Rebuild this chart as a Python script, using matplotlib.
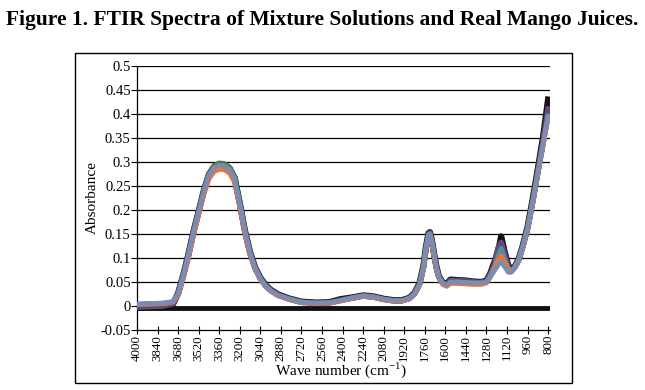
import matplotlib
matplotlib.use("Agg")
import matplotlib.pyplot as plt
from matplotlib.patches import Rectangle

plt.rcParams['font.family'] = ['Liberation Serif', 'DejaVu Serif']
plt.rcParams['mathtext.fontset'] = 'custom'
plt.rcParams['mathtext.rm'] = 'Liberation Serif'

# wave numbers (cm-1) where the spectra were read
wavenumber = [4000, 3900, 3800, 3720, 3680, 3640, 3600, 3560, 3520, 3480,
              3440, 3400, 3360, 3320, 3280, 3240, 3200, 3160, 3120, 3080,
              3040, 3000, 2960, 2900, 2820, 2720, 2600, 2500, 2420, 2320,
              2240, 2160, 2080, 2000, 1940, 1880, 1840, 1800, 1770, 1750,
              1730, 1720, 1705, 1690, 1670, 1650, 1620, 1590, 1560, 1500,
              1440, 1380, 1320, 1280, 1250, 1220, 1190, 1165, 1140, 1110,
              1085, 1060, 1030, 1000, 960, 920, 880, 840, 800]

black = [-0.004, -0.003, -0.002, 0.004, 0.026, 0.064, 0.107, 0.155, 0.197, 0.24,
         0.274, 0.29, 0.295, 0.294, 0.287, 0.267, 0.214, 0.157, 0.112, 0.08,
         0.059, 0.044, 0.034, 0.024, 0.016, 0.009, 0.007, 0.008, 0.014, 0.018,
         0.022, 0.02, 0.015, 0.012, 0.012, 0.017, 0.027, 0.048, 0.084, 0.124,
         0.152, 0.154, 0.138, 0.113, 0.083, 0.062, 0.049, 0.046, 0.055, 0.054,
         0.053, 0.051, 0.05, 0.053, 0.068, 0.09, 0.112, 0.145, 0.115, 0.085,
         0.075, 0.082, 0.097, 0.123, 0.164, 0.222, 0.285, 0.35, 0.43]

purple = [-0.002, -0.001, 0.0, 0.005, 0.027, 0.065, 0.107, 0.155, 0.197, 0.24,
          0.274, 0.29, 0.295, 0.294, 0.287, 0.267, 0.214, 0.157, 0.112, 0.08,
          0.058, 0.043, 0.033, 0.023, 0.015, 0.008, 0.006, 0.007, 0.012, 0.017,
          0.021, 0.019, 0.014, 0.011, 0.011, 0.016, 0.026, 0.047, 0.083, 0.123,
          0.151, 0.153, 0.137, 0.112, 0.082, 0.061, 0.048, 0.045, 0.053, 0.053,
          0.052, 0.05, 0.049, 0.052, 0.066, 0.085, 0.12, 0.132, 0.11, 0.08,
          0.074, 0.081, 0.096, 0.122, 0.162, 0.218, 0.28, 0.34, 0.41]

green = [0.003, 0.004, 0.005, 0.008, 0.025, 0.063, 0.106, 0.155, 0.198, 0.242,
         0.276, 0.293, 0.298, 0.297, 0.289, 0.268, 0.214, 0.156, 0.111, 0.079,
         0.057, 0.042, 0.032, 0.022, 0.015, 0.008, 0.006, 0.007, 0.011, 0.017,
         0.021, 0.019, 0.014, 0.011, 0.011, 0.016, 0.025, 0.045, 0.08, 0.12,
         0.148, 0.15, 0.135, 0.11, 0.08, 0.06, 0.047, 0.043, 0.05, 0.05,
         0.049, 0.048, 0.048, 0.05, 0.062, 0.078, 0.1, 0.112, 0.098, 0.078,
         0.073, 0.08, 0.095, 0.12, 0.16, 0.215, 0.275, 0.335, 0.395]

teal = [0.004, 0.005, 0.006, 0.009, 0.025, 0.062, 0.105, 0.153, 0.195, 0.238,
        0.272, 0.288, 0.293, 0.292, 0.285, 0.265, 0.212, 0.155, 0.11, 0.078,
        0.057, 0.042, 0.032, 0.022, 0.015, 0.008, 0.006, 0.007, 0.011, 0.017,
        0.021, 0.019, 0.014, 0.011, 0.011, 0.016, 0.025, 0.045, 0.08, 0.12,
        0.148, 0.15, 0.135, 0.11, 0.08, 0.06, 0.047, 0.043, 0.05, 0.05,
        0.049, 0.048, 0.048, 0.05, 0.063, 0.08, 0.105, 0.12, 0.1, 0.078,
        0.073, 0.08, 0.095, 0.12, 0.16, 0.215, 0.275, 0.335, 0.395]

orange = [0.003, 0.004, 0.005, 0.008, 0.022, 0.058, 0.1, 0.148, 0.19, 0.232,
          0.265, 0.28, 0.285, 0.284, 0.277, 0.258, 0.207, 0.151, 0.107, 0.076,
          0.055, 0.041, 0.031, 0.021, 0.014, 0.007, 0.005, 0.006, 0.01, 0.016,
          0.02, 0.018, 0.013, 0.01, 0.01, 0.015, 0.024, 0.044, 0.078, 0.118,
          0.146, 0.148, 0.133, 0.108, 0.078, 0.058, 0.045, 0.041, 0.047, 0.047,
          0.046, 0.045, 0.045, 0.048, 0.06, 0.076, 0.095, 0.105, 0.092, 0.075,
          0.072, 0.079, 0.094, 0.119, 0.159, 0.214, 0.274, 0.334, 0.392]

blue = [0.004, 0.005, 0.006, 0.009, 0.025, 0.062, 0.105, 0.153, 0.195, 0.238,
        0.272, 0.288, 0.293, 0.292, 0.285, 0.265, 0.212, 0.155, 0.11, 0.078,
        0.057, 0.042, 0.032, 0.022, 0.015, 0.008, 0.006, 0.007, 0.011, 0.017,
        0.021, 0.019, 0.014, 0.011, 0.011, 0.016, 0.025, 0.045, 0.08, 0.12,
        0.148, 0.15, 0.135, 0.11, 0.08, 0.06, 0.047, 0.043, 0.05, 0.05,
        0.049, 0.048, 0.048, 0.05, 0.06, 0.072, 0.085, 0.092, 0.082, 0.07,
        0.07, 0.078, 0.094, 0.12, 0.16, 0.215, 0.275, 0.335, 0.395]

x_ticks = list(range(4000, 799, -160))
y_ticks = [-0.05, 0, 0.05, 0.1, 0.15, 0.2, 0.25, 0.3, 0.35, 0.4, 0.45, 0.5]
y_labels = ["-0.05", "0", "0.05", "0.1", "0.15", "0.2", "0.25", "0.3",
            "0.35", "0.4", "0.45", "0.5"]

fig = plt.figure(figsize=(6.45, 3.9), dpi=100)

# outer chart frame
fig.patches.append(Rectangle((0.116, 0.018), 0.771, 0.846, transform=fig.transFigure,
                             fill=False, edgecolor='black', linewidth=1.0))

ax = fig.add_axes([0.2124, 0.1538, 0.6403, 0.677])

for yv in y_ticks[2:]:
    ax.axhline(yv, color='black', linewidth=0.9, zorder=1)

# thick baseline series
ax.plot([4000, 785], [-0.004, -0.004], color='#111111', linewidth=3.5, zorder=2,
        solid_capstyle='butt')

ax.plot(wavenumber, black, color='#1c0f10', linewidth=4.5, zorder=3)
ax.plot(wavenumber, purple, color='#5a4c78', linewidth=4.2, zorder=4)
ax.plot(wavenumber, green, color='#4f7a3c', linewidth=3.5, zorder=5)
ax.plot(wavenumber, teal, color='#4d8ea3', linewidth=3.5, zorder=6)
ax.plot(wavenumber, orange, color='#e8743b', linewidth=3.5, zorder=7)
ax.plot(wavenumber, blue, color='#7a8cb6', linewidth=3.2, zorder=8)

ax.set_xlim(4000, 785)
ax.set_ylim(-0.05, 0.5)
ax.set_xticks(x_ticks)
ax.set_xticklabels([str(t) for t in x_ticks], rotation=90)
ax.set_yticks(y_ticks)
ax.set_yticklabels(y_labels)
ax.tick_params(axis='y', direction='out', length=4, width=0.8, labelsize=10.5, pad=0.5)
ax.tick_params(axis='x', direction='inout', length=6, width=0.8, labelsize=9.3, pad=0.5)

for side in ['top', 'right']:
    ax.spines[side].set_visible(False)
ax.spines['left'].set_linewidth(0.9)
ax.spines['bottom'].set_linewidth(0.9)

fig.text(92 / 645, 1 - 197 / 390, "Absorbance", rotation=90,
         ha='center', va='center', fontsize=11)
fig.text(341 / 645, 1 - 370 / 390, r"Wave number (cm$^{\mathrm{-1}}$)",
         ha='center', va='center', fontsize=11)

fig.text(0.5, 1 - 20 / 390, "Figure 1. FTIR Spectra of Mixture Solutions and Real Mango Juices.",
         ha='center', va='center', fontsize=15.5, fontweight='bold')

fig.savefig("out.png", dpi=100)
